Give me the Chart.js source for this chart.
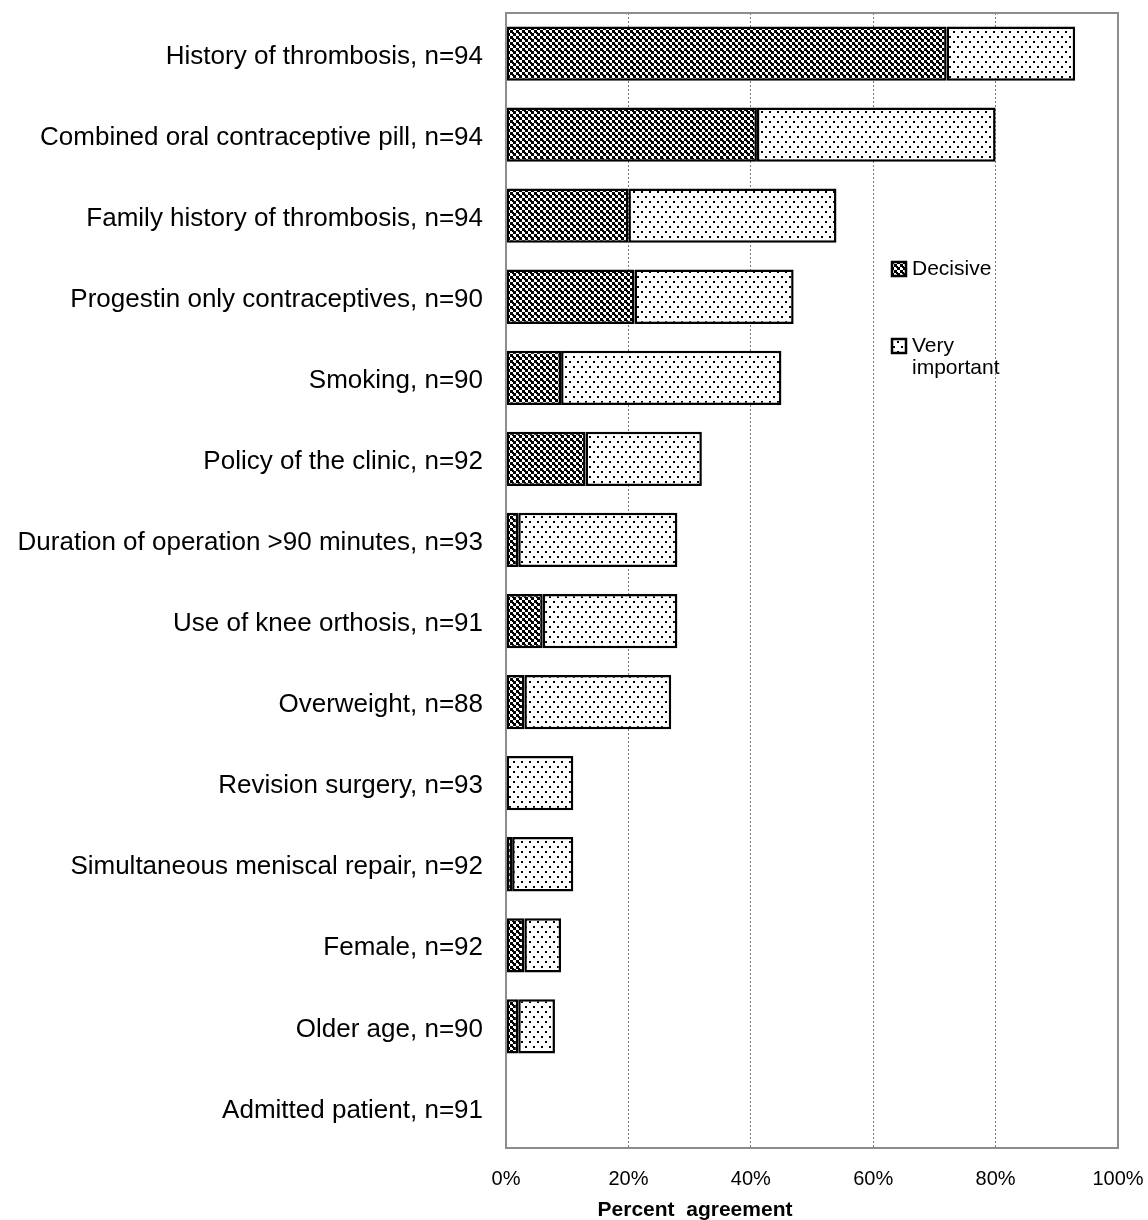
<!DOCTYPE html>
<html>
<head>
<meta charset="utf-8">
<script src="https://cdn.jsdelivr.net/npm/chart.js@4"></script>
<style>
  body { margin: 0; background: #fff; }
  #wrap { width: 1148px; height: 1220px; }
</style>
</head>
<body>
<div id="wrap"><canvas id="chart" width="1148" height="1220"></canvas></div>
<script>
const categories = [
    'History of thrombosis, n=94',
    'Combined oral contraceptive pill, n=94',
    'Family history of thrombosis, n=94',
    'Progestin only contraceptives, n=90',
    'Smoking, n=90',
    'Policy of the clinic, n=92',
    'Duration of operation >90 minutes, n=93',
    'Use of knee orthosis, n=91',
    'Overweight, n=88',
    'Revision surgery, n=93',
    'Simultaneous meniscal repair, n=92',
    'Female, n=92',
    'Older age, n=90',
    'Admitted patient, n=91'
];
const decisive = [72, 41, 20, 21, 9, 13, 2, 6, 3, 0, 1, 3, 2, 0];
const veryImportant = [21, 39, 34, 26, 36, 19, 26, 22, 24, 11, 10, 6, 6, 0];
const xTicks = [0, 20, 40, 60, 80, 100];

const FONT = '"Liberation Sans", Arial, sans-serif';

function makePattern(kind) {
    const c = document.createElement('canvas');
    const g = c.getContext('2d');
    if (kind === 'checker') {
        c.width = 6; c.height = 6;
        g.fillStyle = '#fff';
        g.fillRect(0, 0, 6, 6);
        g.fillStyle = '#000';
        g.fillRect(0, 0, 3, 3);
        g.fillRect(3, 3, 3, 3);
        g.fillRect(2, 2, 2, 2);
    } else {
        c.width = 8; c.height = 10;
        g.fillStyle = '#fff';
        g.fillRect(0, 0, 8, 10);
        g.fillStyle = '#000';
        g.fillRect(1, 1, 2, 2);
        g.fillRect(5, 6, 2, 2);
    }
    return g.createPattern(c, 'repeat');
}

const ctx = document.getElementById('chart').getContext('2d');
const checker = makePattern('checker');
const dots = makePattern('dots');

// legend sits inside the plot, title is off-centre like the original
const extras = {
    id: 'extras',
    afterDraw(chart) {
        const { ctx, chartArea: a } = chart;
        ctx.save();
        ctx.strokeStyle = '#8c8c8c';
        ctx.lineWidth = 2;
        ctx.strokeRect(a.left, a.top, a.right - a.left, a.bottom - a.top);

        const items = [
            { fill: checker, lines: ['Decisive'], y: 269 },
            { fill: dots, lines: ['Very', 'important'], y: 346 }
        ];
        const lx = 892;
        ctx.font = '21px ' + FONT;
        ctx.textBaseline = 'middle';
        items.forEach(it => {
            ctx.fillStyle = it.fill;
            ctx.fillRect(lx, it.y - 7, 14, 14);
            ctx.strokeStyle = '#000';
            ctx.lineWidth = 2.5;
            ctx.strokeRect(lx, it.y - 7, 14, 14);
            ctx.fillStyle = '#000';
            it.lines.forEach((t, i) => ctx.fillText(t, 912, it.y + i * 22));
        });

        ctx.font = 'bold 21px ' + FONT;
        ctx.textAlign = 'center';
        ctx.fillText('Percent  agreement', 695, 1210);
        ctx.restore();
    }
};

new Chart(ctx, {
    type: 'bar',
    data: {
        labels: categories,
        datasets: [{
            label: 'Decisive',
            data: decisive,
            backgroundColor: checker,
            borderColor: '#000',
            borderWidth: 2.5,
            borderSkipped: false
        }, {
            label: 'Very important',
            data: veryImportant,
            backgroundColor: dots,
            borderColor: '#000',
            borderWidth: 2.5,
            borderSkipped: false
        }]
    },
    options: {
        indexAxis: 'y',
        responsive: false,
        animation: false,
        barPercentage: 0.67,
        categoryPercentage: 1,
        layout: { padding: { top: 13, bottom: 0, left: 0, right: 0 } },
        plugins: {
            legend: { display: false },
            tooltip: { enabled: false }
        },
        scales: {
            x: {
                stacked: true,
                min: 0,
                max: 100,
                afterBuildTicks: axis => { axis.ticks = xTicks.map(v => ({ value: v })); },
                afterFit: s => { s.height = 72; s.paddingLeft = 0; s.paddingRight = 30; },
                ticks: {
                    color: '#000',
                    padding: 19,
                    font: { family: FONT, size: 20 },
                    callback: v => v + '%'
                },
                grid: { color: '#777', lineWidth: 1, drawTicks: false },
                border: { display: false, dash: [2, 2] }
            },
            y: {
                stacked: true,
                afterFit: s => { s.width = 506; s.paddingTop = 0; s.paddingBottom = 0; },
                ticks: {
                    color: '#000',
                    padding: 23,
                    labelOffset: 3,
                    font: { family: FONT, size: 26 }
                },
                grid: { display: false, drawTicks: false },
                border: { display: false }
            }
        }
    },
    plugins: [extras]
});
</script>
</body>
</html>
